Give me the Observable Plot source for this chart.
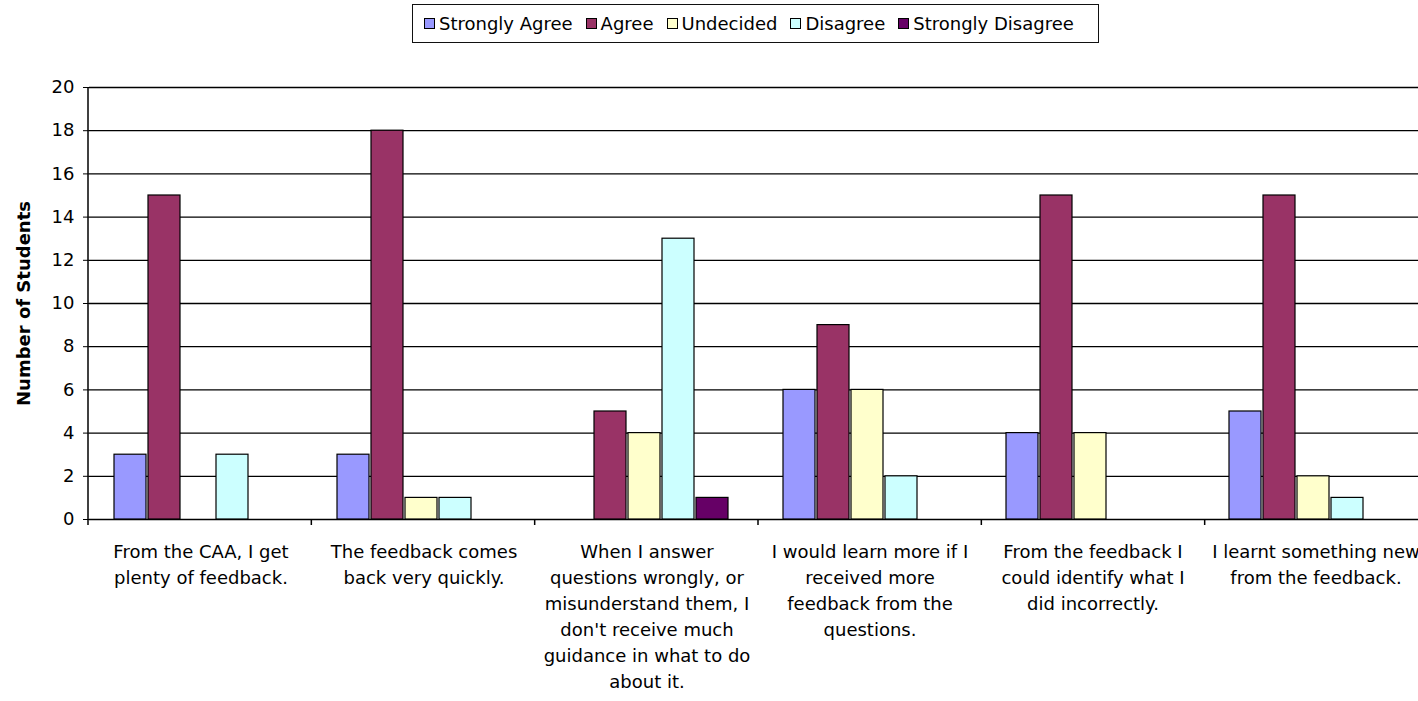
<!DOCTYPE html>
<html>
<head>
<meta charset="utf-8">
<script src="https://cdn.jsdelivr.net/npm/d3@7"></script>
<script src="https://cdn.jsdelivr.net/npm/@observablehq/plot@0.6"></script>
<style>
  html, body { margin: 0; padding: 0; background: #fff; }
  body { width: 1418px; height: 701px; overflow: hidden; font-family: "DejaVu Sans", sans-serif; color: #000; }
  #legend { height: 48px; position: relative; }
  #legend .box { position: absolute; left: 412px; top: 4px; width: 687px; height: 39px; border: 1.5px solid #111;
    display: flex; align-items: center; box-sizing: border-box; padding-left: 11px; font-size: 18px; white-space: nowrap; }
  #legend .item { display: flex; align-items: center; margin-right: 13px; }
  #legend .sw { width: 9px; height: 9px; border: 1px solid #000; margin-right: 4px; }
</style>
</head>
<body>
<div id="legend"><div class="box"></div></div>
<div id="chart"></div>
<script>
const categories = [
  "From the CAA, I get plenty of feedback.",
  "The feedback comes back very quickly.",
  "When I answer questions wrongly, or misunderstand them, I don't receive much guidance in what to do about it.",
  "I would learn more if I received more feedback from the questions.",
  "From the feedback I could identify what I did incorrectly.",
  "I learnt something new from the feedback."
];
const tickLabels = [
  "From the CAA, I get\nplenty of feedback.",
  "The feedback comes\nback very quickly.",
  "When I answer\nquestions wrongly, or\nmisunderstand them, I\ndon't receive much\nguidance in what to do\nabout it.",
  "I would learn more if I\nreceived more\nfeedback from the\nquestions.",
  "From the feedback I\ncould identify what I\ndid incorrectly.",
  "I learnt something new\nfrom the feedback."
];
const series = ["Strongly Agree", "Agree", "Undecided", "Disagree", "Strongly Disagree"];
const colors = ["#9999FF", "#993366", "#FFFFCC", "#CCFFFF", "#660066"];
const stronglyAgree    = [3, 3, 0, 6, 4, 5];
const agree            = [15, 18, 5, 9, 15, 15];
const undecided        = [0, 1, 4, 6, 4, 2];
const disagree         = [3, 1, 13, 2, 0, 1];
const stronglyDisagree = [0, 0, 1, 0, 0, 0];
const yTicks = [0, 2, 4, 6, 8, 10, 12, 14, 16, 18, 20];

const seriesValues = [stronglyAgree, agree, undecided, disagree, stronglyDisagree];
const data = [];
categories.forEach((c, i) => {
  series.forEach((s, j) => {
    data.push({category: c, series: s, value: seriesValues[j][i]});
  });
});
const bars = data.filter(d => d.value > 0);
const labelOf = new Map(categories.map((c, i) => [c, tickLabels[i]]));

// legend
const box = d3.select("#legend .box");
series.forEach((s, i) => {
  const it = box.append("div").attr("class", "item");
  it.append("div").attr("class", "sw").style("background", colors[i]);
  it.append("span").text(s);
});

const chart = Plot.plot({
  width: 1418,
  height: 653,
  marginTop: 39,
  marginBottom: 182,
  marginLeft: 88,
  marginRight: -10,
  style: {fontFamily: "DejaVu Sans, sans-serif", fontSize: "18px", color: "#000", background: "#fff", overflow: "hidden"},
  fx: {domain: categories, padding: 0, axis: null, label: null},
  x: {domain: series, paddingInner: 0.07, paddingOuter: 0.75, align: 0.45, axis: null},
  y: {domain: [0, 20], axis: null},
  color: {domain: series, range: colors},
  marks: [
    Plot.ruleY(yTicks, {y: d => d, stroke: "#000", strokeWidth: 1.3}),
    Plot.barY(bars, {fx: "category", x: "series", y: "value", fill: "series", stroke: "#000", strokeWidth: 1.2}),
    Plot.axisY({ticks: yTicks, tickSize: 6, tickPadding: 9, fontSize: 18, stroke: "#000",
      label: "Number of Students", labelAnchor: "center", labelArrow: "none", labelOffset: 72}),
    Plot.axisFx({anchor: "bottom", tickSize: 0, tickPadding: 20, fontSize: 18, lineHeight: 1.44,
      tickFormat: d => labelOf.get(d), label: null})
  ]
});
document.getElementById("chart").appendChild(chart);

// y-axis line and category boundary ticks, placed from the scales
const fx = chart.scale("fx");
const ys = chart.scale("y");
const svg = d3.select(chart);
const x0 = fx.range[0];
const step = (fx.range[1] - fx.range[0]) / categories.length;
const yBottom = ys.range[0], yTop = ys.range[1];
const g = svg.append("g").attr("stroke", "#000").attr("stroke-width", 1.5);
g.append("line").attr("x1", x0).attr("x2", x0).attr("y1", yTop).attr("y2", yBottom + 6);
for (let i = 1; i <= categories.length; i++) {
  const x = x0 + i * step;
  g.append("line").attr("x1", x).attr("x2", x).attr("y1", yBottom).attr("y2", yBottom + 6);
}
// bold axis label
svg.selectAll("[aria-label='y-axis label'] text, [aria-label='y-axis label']").attr("font-weight", "bold");
</script>
</body>
</html>
